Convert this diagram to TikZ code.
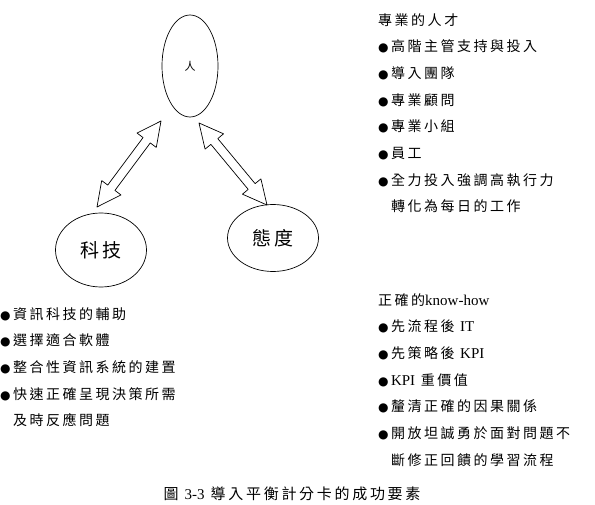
\documentclass[tikz,border=0pt]{standalone}
\usepackage{fontspec}
\setmainfont{Liberation Serif}
\newfontfamily\cjk[LetterSpace=18]{Noto Sans CJK TC}
\newfontfamily\symfont{DejaVu Sans}
\usetikzlibrary{calc,shapes.geometric}

\newcommand\bul{{\symfont\fontsize{12}{12}\selectfont ●}\,}
\newcommand\lat[1]{{\rmfamily\fontsize{15}{15}\selectfont #1}}
\newcommand\dblarrow[2]{%
  \draw[arrowline] (#1)
    -- ($(#1)!24pt!(#2)!12pt!90:(#2)$) -- ($(#1)!24pt!(#2)!4.5pt!90:(#2)$)
    -- ($(#2)!24pt!(#1)!4.5pt!-90:(#1)$) -- ($(#2)!24pt!(#1)!12pt!-90:(#1)$)
    -- (#2)
    -- ($(#2)!24pt!(#1)!12pt!90:(#1)$) -- ($(#2)!24pt!(#1)!4.5pt!90:(#1)$)
    -- ($(#1)!24pt!(#2)!4.5pt!-90:(#2)$) -- ($(#1)!24pt!(#2)!12pt!-90:(#2)$)
    -- cycle;}

\begin{document}
\begin{tikzpicture}[x=1pt,y=-1pt,line join=round,
    bubble/.style={draw,ellipse,line width=0.7pt,inner sep=0pt},
    arrowline/.style={draw,line width=0.7pt,fill=white},
    listtext/.style={anchor=north west,inner sep=0pt,align=left,
      font=\cjk\fontsize{14}{26.7}\selectfont}]
  \useasboundingbox (0,0) rectangle (595,505);
  % three factors
  \node[bubble,minimum width=56,minimum height=102] (ren) at (190,66) {\cjk\fontsize{11}{11}\selectfont 人};
  \node[bubble,minimum width=91,minimum height=74] (tech) at (101,250) {\cjk\fontsize{19}{19}\selectfont 科技};
  \node[bubble,minimum width=91,minimum height=67] (attd) at (273,238) {\cjk\fontsize{19}{19}\selectfont 態度};
  % arrows
  \coordinate (techtip) at (97,207);
  \coordinate (renleft) at (161,121);
  \coordinate (renright) at (199,123);
  \coordinate (attdtip) at (267,205);
  \dblarrow{techtip}{renleft}
  \dblarrow{attdtip}{renright}
  % lists
  \node[listtext] (people) at (378,13) {專業的人才\\
    \bul 高階主管支持與投入\\
    \bul 導入團隊\\
    \bul 專業顧問\\
    \bul 專業小組\\
    \bul 員工\\
    \bul 全力投入強調高執行力\\
    \phantom{\bul}轉化為每日的工作};
  \node[listtext] (techlist) at (0,307) {\bul 資訊科技的輔助\\
    \bul 選擇適合軟體\\
    \bul 整合性資訊系統的建置\\
    \bul 快速正確呈現決策所需\\
    \phantom{\bul}及時反應問題};
  \node[listtext] (knowhow) at (378,293) {正確的\lat{know-how}\\
    \bul 先流程後 \lat{IT}\\
    \bul 先策略後 \lat{KPI}\\
    \bul\lat{KPI} 重價值\\
    \bul 釐清正確的因果關係\\
    \bul 開放坦誠勇於面對問題不\\
    \phantom{\bul}斷修正回饋的學習流程};
  \node[font=\cjk\fontsize{15}{15}\selectfont] (caption) at (292,494) {圖 \lat{3-3} 導入平衡計分卡的成功要素};
\end{tikzpicture}
\end{document}
